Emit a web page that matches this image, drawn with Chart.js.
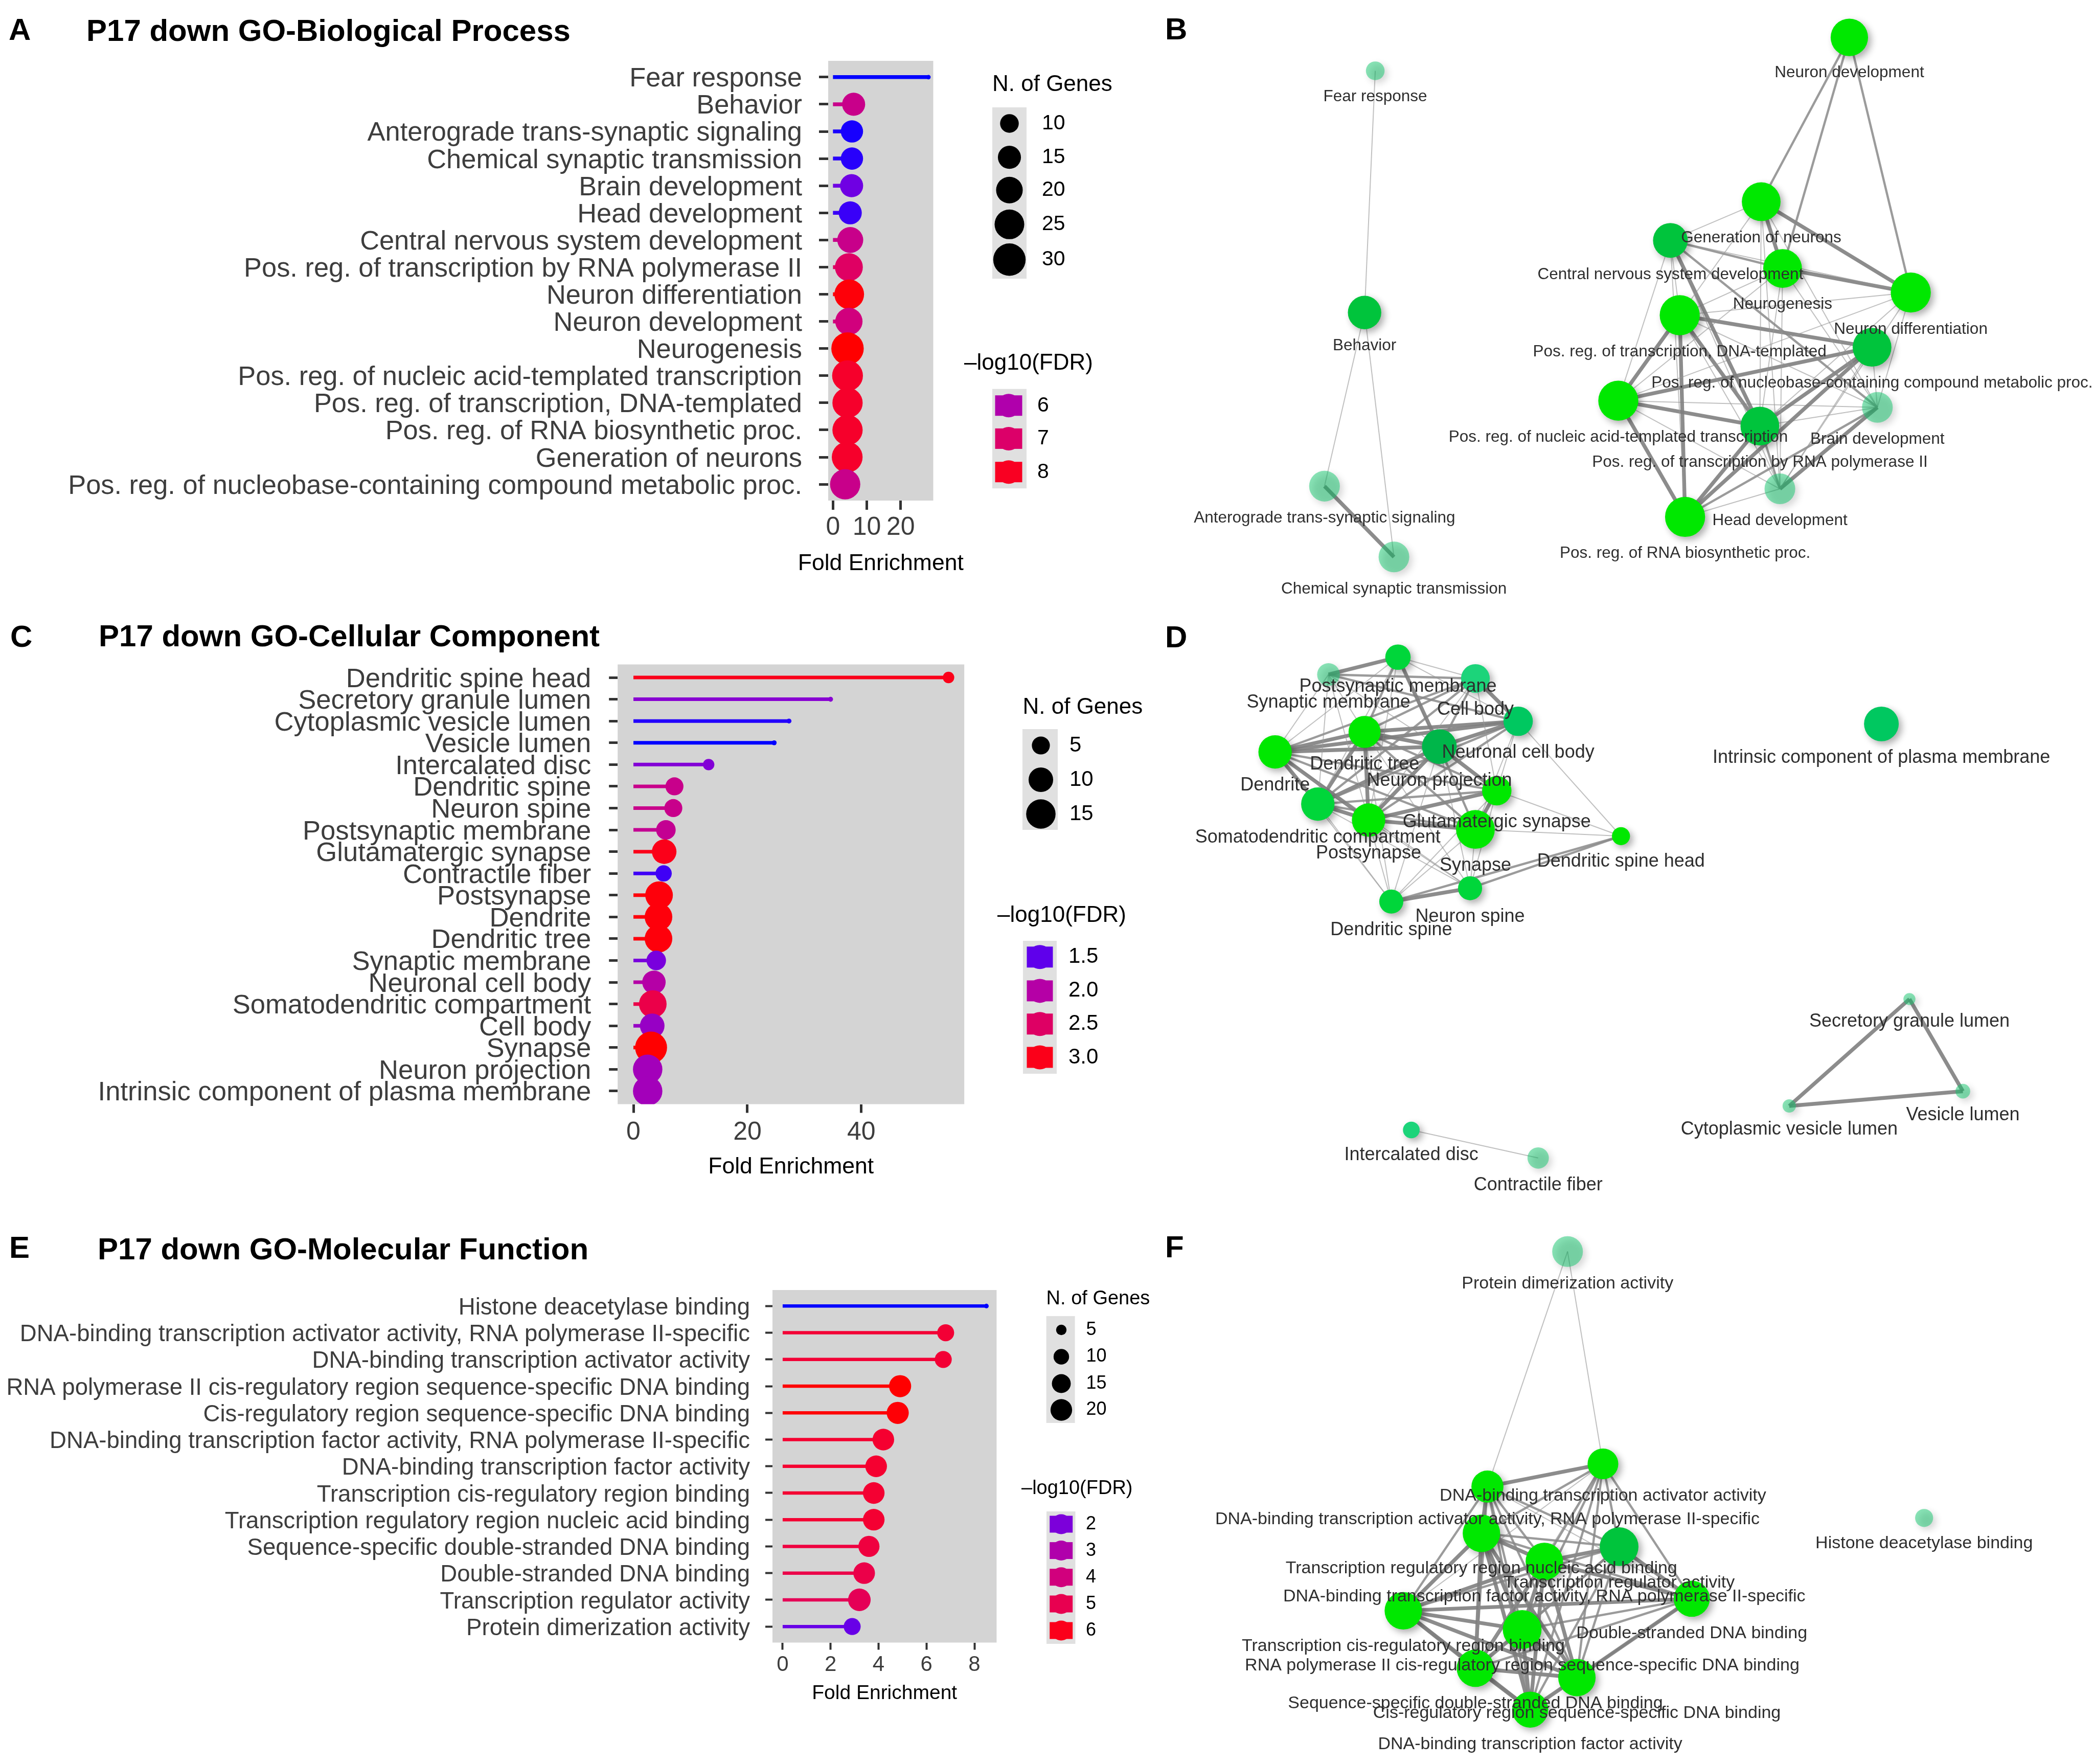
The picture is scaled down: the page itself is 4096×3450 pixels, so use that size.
<!DOCTYPE html>
<html>
<head>
<meta charset="utf-8">
<title>P17 down GO enrichment</title>
<script src="https://cdn.jsdelivr.net/npm/chart.js@4.4.1/dist/chart.umd.min.js"></script>
<style>
  html, body { margin: 0; padding: 0; background: #ffffff; }
  body { position: relative; width: 4096px; height: 3450px; overflow: hidden; }
  canvas { position: absolute; }
</style>
</head>
<body>
<canvas id="chartNet" width="1850" height="3450" style="left:2246px;top:0px"></canvas>
<canvas id="chartA" width="2300" height="1190" style="left:0px;top:0px"></canvas>
<canvas id="chartC" width="2300" height="1170" style="left:0px;top:1190px"></canvas>
<canvas id="chartE" width="2300" height="1090" style="left:0px;top:2360px"></canvas>
<script>
// --- Data: GO Biological Process (panel A / B) ---
const bpTerms = ['Fear response', 'Behavior', 'Anterograde trans-synaptic signaling', 'Chemical synaptic transmission',
  'Brain development', 'Head development', 'Central nervous system development',
  'Pos. reg. of transcription by RNA polymerase II', 'Neuron differentiation', 'Neuron development', 'Neurogenesis',
  'Pos. reg. of nucleic acid-templated transcription', 'Pos. reg. of transcription, DNA-templated',
  'Pos. reg. of RNA biosynthetic proc.', 'Generation of neurons',
  'Pos. reg. of nucleobase-containing compound metabolic proc.'];
const bpFold = [28.2, 6.1, 5.6, 5.6, 5.5, 5.1, 5.1, 4.7, 4.8, 4.7, 4.3, 4.3, 4.3, 4.3, 4.2, 3.6];
const bpGenes = [3, 15, 14, 14, 15, 15, 19, 22, 25, 21, 30, 27, 26, 26, 27, 26];
const bpLogFdr = [4.8, 6.5, 4.82, 4.85, 5.2, 4.9, 6.5, 7.1, 8.2, 6.7, 8.25, 7.9, 7.9, 7.9, 7.9, 6.5];
const bpTicks = [0, 10, 20];
const bpSizeBreaks = [10, 15, 20, 25, 30];
const bpFdrBreaks = [6, 7, 8];

// --- Data: GO Cellular Component (panel C / D) ---
const ccTerms = ['Dendritic spine head', 'Secretory granule lumen', 'Cytoplasmic vesicle lumen', 'Vesicle lumen',
  'Intercalated disc', 'Dendritic spine', 'Neuron spine', 'Postsynaptic membrane', 'Glutamatergic synapse',
  'Contractile fiber', 'Postsynapse', 'Dendrite', 'Dendritic tree', 'Synaptic membrane', 'Neuronal cell body',
  'Somatodendritic compartment', 'Cell body', 'Synapse', 'Neuron projection', 'Intrinsic component of plasma membrane'];
const ccFold = [55.3, 34.6, 27.3, 24.7, 13.2, 7.2, 7.0, 5.7, 5.4, 5.3, 4.5, 4.4, 4.4, 4.0, 3.6, 3.4, 3.3, 3.1, 2.5, 2.5];
const ccGenes = [2, 1, 1, 1, 2, 5, 5, 6, 10, 4, 13, 13, 13, 6, 9, 13, 10, 18, 15, 15];
const ccLogFdr = [3.0, 1.68, 1.38, 1.36, 1.65, 2.2, 2.2, 2.15, 3.0, 1.42, 3.05, 3.05, 3.05, 1.6, 2.0, 2.7, 1.77, 3.08, 1.85, 1.85];
const ccTicks = [0, 20, 40];
const ccSizeBreaks = [5, 10, 15];
const ccFdrBreaks = [1.5, 2.0, 2.5, 3.0];

// --- Data: GO Molecular Function (panel E / F) ---
const mfTerms = ['Histone deacetylase binding',
  'DNA-binding transcription activator activity, RNA polymerase II-specific',
  'DNA-binding transcription activator activity',
  'RNA polymerase II cis-regulatory region sequence-specific DNA binding',
  'Cis-regulatory region sequence-specific DNA binding',
  'DNA-binding transcription factor activity, RNA polymerase II-specific',
  'DNA-binding transcription factor activity', 'Transcription cis-regulatory region binding',
  'Transcription regulatory region nucleic acid binding', 'Sequence-specific double-stranded DNA binding',
  'Double-stranded DNA binding', 'Transcription regulator activity', 'Protein dimerization activity'];
const mfFold = [8.5, 6.8, 6.7, 4.9, 4.8, 4.2, 3.9, 3.8, 3.8, 3.6, 3.4, 3.2, 2.9];
const mfGenes = [3, 12, 12, 21, 21, 20, 20, 20, 20, 19, 20, 22, 12];
const mfLogFdr = [1.25, 5.55, 5.55, 6.25, 6.2, 5.65, 5.65, 5.6, 5.6, 5.35, 5.15, 4.85, 1.75];
const mfTicks = [0, 2, 4, 6, 8];
const mfSizeBreaks = [5, 10, 15, 20];
const mfFdrBreaks = [2, 3, 4, 5, 6];

// --- Networks: layout coordinates (x, y), node sizes and edges [from, to, weight] ---
const bpNodeNames = ['Fear response', 'Behavior', 'Anterograde trans-synaptic signaling', 'Chemical synaptic transmission',
  'Neuron development', 'Generation of neurons', 'Central nervous system development', 'Neurogenesis',
  'Neuron differentiation', 'Pos. reg. of transcription, DNA-templated',
  'Pos. reg. of nucleobase-containing compound metabolic proc.', 'Pos. reg. of nucleic acid-templated transcription',
  'Brain development', 'Pos. reg. of transcription by RNA polymerase II', 'Head development',
  'Pos. reg. of RNA biosynthetic proc.'];
const bpNodeX = [1030, 1022, 992, 1044, 1385, 1319, 1251, 1335, 1431, 1258, 1402, 1212, 1406, 1318, 1333, 1262];
const bpNodeY = [53, 234, 364, 417, 28, 151, 180, 201, 219, 236, 260, 300, 305, 319, 366, 387];
const bpNodeSize = [14, 25, 23, 23, 28, 29, 26, 29, 30, 30, 29, 30, 23, 29, 23, 30];
const bpEdges = [[0, 1, 1], [1, 2, 1], [1, 3, 1], [2, 3, 3],
  [4, 5, 2], [4, 7, 2], [4, 8, 2],
  [5, 6, 1], [5, 7, 3], [5, 8, 3], [5, 9, 1], [5, 12, 1], [5, 14, 1], [5, 13, 1],
  [6, 7, 2], [6, 8, 1], [6, 9, 1], [6, 11, 1], [6, 13, 3], [6, 12, 2], [6, 14, 1], [6, 15, 1],
  [7, 8, 3], [7, 9, 1], [7, 12, 1], [7, 14, 1], [7, 13, 1], [7, 11, 1],
  [8, 12, 1], [8, 14, 1], [8, 9, 1], [8, 11, 1], [8, 13, 1],
  [9, 10, 3], [9, 11, 3], [9, 15, 3], [9, 13, 3], [9, 14, 1], [9, 12, 1],
  [10, 11, 3], [10, 15, 3], [10, 13, 3], [10, 12, 1], [10, 14, 1],
  [11, 13, 3], [11, 15, 3], [11, 12, 1], [11, 14, 1],
  [12, 14, 3], [12, 15, 2], [12, 13, 1], [13, 15, 3], [13, 14, 2], [14, 15, 1]];

const ccNodeNames = ['Postsynaptic membrane', 'Synaptic membrane', 'Cell body', 'Neuronal cell body', 'Dendritic tree',
  'Neuron projection', 'Dendrite', 'Glutamatergic synapse', 'Somatodendritic compartment', 'Postsynapse', 'Synapse',
  'Dendritic spine head', 'Neuron spine', 'Dendritic spine', 'Intrinsic component of plasma membrane',
  'Secretory granule lumen', 'Vesicle lumen', 'Cytoplasmic vesicle lumen', 'Intercalated disc', 'Contractile fiber'];
const ccNodeX = [1047, 995, 1105, 1137, 1022, 1078, 955, 1121, 987, 1025, 1105, 1214, 1101, 1042, 1409, 1430, 1470, 1340, 1057, 1152];
const ccNodeY = [492, 505, 508, 540, 548, 559, 563, 592, 602, 614, 621, 626, 665, 675, 542, 748, 817, 828, 846, 867];
const ccNodeSize = [19, 17, 21.5, 22, 24, 26, 25, 22, 25, 25, 29, 13.5, 18, 18, 26, 9, 11, 10, 12.5, 16];
const ccEdges = [[0, 1, 3], [0, 2, 1], [0, 4, 2], [0, 5, 3], [0, 6, 1], [0, 3, 1], [0, 9, 1], [0, 8, 1], [0, 10, 1],
  [1, 2, 2], [1, 6, 1], [1, 4, 1], [1, 5, 1], [1, 3, 2], [1, 8, 1], [1, 9, 1],
  [2, 3, 3], [2, 5, 2], [2, 6, 2], [2, 4, 2], [2, 8, 2], [2, 7, 1], [2, 9, 1],
  [3, 4, 3], [3, 6, 3], [3, 5, 3], [3, 8, 2], [3, 9, 2], [3, 11, 1], [3, 7, 1], [3, 10, 1],
  [4, 6, 3], [4, 5, 3], [4, 8, 3], [4, 9, 3], [4, 7, 2], [4, 10, 2], [4, 13, 1], [4, 12, 1],
  [5, 6, 3], [5, 8, 3], [5, 9, 3], [5, 7, 3], [5, 10, 2], [5, 12, 1], [5, 13, 1],
  [6, 8, 3], [6, 9, 3], [6, 7, 2], [6, 10, 2], [6, 13, 1], [6, 12, 1],
  [7, 8, 2], [7, 9, 3], [7, 10, 3], [7, 11, 1], [7, 12, 1], [7, 13, 1],
  [8, 9, 3], [8, 10, 2], [8, 13, 1], [8, 12, 1],
  [9, 10, 3], [9, 13, 1], [9, 12, 1], [10, 12, 1], [10, 13, 1], [10, 11, 1],
  [11, 12, 2], [11, 13, 2], [12, 13, 3],
  [15, 16, 3], [15, 17, 3], [16, 17, 3], [18, 19, 1]];

const mfNodeNames = ['Protein dimerization activity', 'DNA-binding transcription activator activity',
  'DNA-binding transcription activator activity, RNA polymerase II-specific',
  'Transcription regulatory region nucleic acid binding', 'Transcription regulator activity',
  'DNA-binding transcription factor activity, RNA polymerase II-specific', 'Double-stranded DNA binding',
  'Transcription cis-regulatory region binding',
  'RNA polymerase II cis-regulatory region sequence-specific DNA binding',
  'Sequence-specific double-stranded DNA binding', 'Cis-regulatory region sequence-specific DNA binding',
  'DNA-binding transcription factor activity', 'Histone deacetylase binding'];
const mfNodeX = [1174, 1200.5, 1114, 1109.5, 1212.6, 1156.6, 1267, 1051, 1140, 1105, 1181, 1146, 1441];
const mfNodeY = [937, 1096, 1113, 1148, 1158, 1169, 1197, 1206, 1220, 1249, 1256, 1280, 1136.5];
const mfNodeSize = [23, 23, 24, 28, 29, 28, 27, 28, 29, 28, 28, 27, 13.5];
const mfEdges = [[0, 1, 1], [0, 2, 1],
  [1, 2, 3], [1, 3, 2], [1, 4, 2], [1, 5, 2], [1, 6, 2], [1, 7, 1], [1, 8, 2], [1, 9, 1], [1, 10, 2], [1, 11, 2],
  [2, 3, 3], [2, 4, 2], [2, 5, 2], [2, 6, 1], [2, 7, 2], [2, 8, 2], [2, 9, 2], [2, 10, 2], [2, 11, 2],
  [3, 4, 2], [3, 5, 3], [3, 6, 2], [3, 7, 3], [3, 8, 3], [3, 9, 3], [3, 10, 3], [3, 11, 3],
  [4, 5, 3], [4, 6, 3], [4, 7, 2], [4, 8, 2], [4, 9, 2], [4, 10, 2], [4, 11, 2],
  [5, 6, 3], [5, 7, 3], [5, 8, 3], [5, 9, 3], [5, 10, 3], [5, 11, 3],
  [6, 7, 3], [6, 8, 2], [6, 9, 2], [6, 10, 3], [6, 11, 2],
  [7, 8, 3], [7, 9, 3], [7, 10, 3], [7, 11, 3],
  [8, 9, 3], [8, 10, 3], [8, 11, 3], [9, 10, 3], [9, 11, 3], [10, 11, 3]];

// --- Styles ---
const FONT = '"Liberation Sans", Arial, Helvetica, sans-serif';
const K = 4096 / 1568;            // network layout unit -> px
const PANEL_BG = '#D4D4D4';
const KEY_BG = '#E0E0E0';
const TICK_TEXT = '#3D3D3D';
const TICK_MARK = '#333333';
const NODE_TONE = {
  bright: '#00E800', green: '#00D63A', dark: '#00C43C', deep: '#00B64A',
  mint: '#1CD47A', mintDark: '#00C860', pale: 'rgba(20,200,110,0.5)'
};
const bpNodeTone = ['pale', 'dark', 'pale', 'pale', 'bright', 'bright', 'dark', 'bright', 'bright', 'bright',
  'dark', 'bright', 'pale', 'dark', 'pale', 'bright'];
const ccNodeTone = ['green', 'pale', 'mint', 'mintDark', 'bright', 'deep', 'bright', 'bright', 'green', 'bright',
  'bright', 'bright', 'green', 'green', 'mintDark', 'pale', 'pale', 'pale', 'mint', 'pale'];
const mfNodeTone = ['pale', 'bright', 'bright', 'bright', 'dark', 'bright', 'bright', 'bright', 'bright', 'bright',
  'bright', 'bright', 'pale'];
const EDGE_STYLE = {
  1: { width: 2, color: 'rgba(150,150,150,0.6)' },
  2: { width: 4.4, color: 'rgba(138,138,138,0.85)' },
  3: { width: 7.4, color: 'rgba(128,128,128,0.9)' }
};

Chart.defaults.font.family = FONT;

// --- Colour ramp blue -> red, interpolated in Lab like ggplot ---
const lin = c => { c /= 255; return c <= 0.04045 ? c / 12.92 : Math.pow((c + 0.055) / 1.055, 2.4); };
function rgb2lab(rgb) {
  const [r, g, b] = rgb.map(lin);
  const X = (0.4124564 * r + 0.3575761 * g + 0.1804375 * b) / 0.95047;
  const Y = 0.2126729 * r + 0.7151522 * g + 0.0721750 * b;
  const Z = (0.0193339 * r + 0.1191920 * g + 0.9503041 * b) / 1.08883;
  const f = t => t > 0.008856 ? Math.cbrt(t) : 7.787 * t + 16 / 116;
  const fx = f(X), fy = f(Y), fz = f(Z);
  return [116 * fy - 16, 500 * (fx - fy), 200 * (fy - fz)];
}
function lab2rgb(L, a, b) {
  const fy = (L + 16) / 116, fx = fy + a / 500, fz = fy - b / 200;
  const finv = t => t > 0.206893 ? t * t * t : (t - 16 / 116) / 7.787;
  const X = finv(fx) * 0.95047, Y = finv(fy), Z = finv(fz) * 1.08883;
  const r = 3.2404542 * X - 1.5371385 * Y - 0.4985314 * Z;
  const g = -0.9692660 * X + 1.8760108 * Y + 0.0415560 * Z;
  const bb = 0.0556434 * X - 0.2040259 * Y + 1.0572252 * Z;
  const gam = c => { c = Math.min(1, Math.max(0, c)); return Math.round(255 * (c <= 0.0031308 ? 12.92 * c : 1.055 * Math.pow(c, 1 / 2.4) - 0.055)); };
  return `rgb(${gam(r)},${gam(g)},${gam(bb)})`;
}
const LAB_LO = rgb2lab([0, 0, 255]);
const LAB_HI = rgb2lab([255, 0, 0]);
const ramp = t => lab2rgb(...LAB_LO.map((v, i) => v + (LAB_HI[i] - v) * t));

// radius (px) of a dot for N genes: ggplot-like area scale between data min and max
function sizeScale(genes, lo, hi) {
  const nMin = Math.min(...genes), nMax = Math.max(...genes);
  return n => (lo + (hi - lo) * Math.sqrt(Math.max(0, (n - nMin) / (nMax - nMin)))) * 0.961 / 2;
}

// --- Lollipop panels ---
function lollipopDecor(s, sizeBreaks, fdrBreaks, radiusOf, colorOf) {
  return {
    id: 'lollipopDecor',
    beforeDraw(chart) {
      const { ctx, chartArea: a } = chart;
      ctx.save();
      ctx.fillStyle = PANEL_BG;
      ctx.fillRect(a.left, a.top, a.right - a.left, a.bottom - a.top);
      ctx.restore();
    },
    afterDraw(chart) {
      const { ctx, chartArea: a } = chart;
      ctx.save();
      ctx.fillStyle = '#000';
      ctx.textAlign = 'left';
      ctx.textBaseline = 'alphabetic';
      ctx.font = `bold 60px ${FONT}`;
      ctx.fillText(s.letter, s.letterX, s.letterY);
      ctx.fillText(s.title, s.titleX, s.titleY);
      ctx.textAlign = 'center';
      ctx.font = `${s.axisTitleFont}px ${FONT}`;
      ctx.fillText('Fold Enrichment', (a.left + a.right) / 2, s.axisTitleY);

      // size legend
      const L = s.sizeLegend;
      ctx.textAlign = 'left';
      ctx.textBaseline = 'middle';
      ctx.font = `${s.legendTitleFont}px ${FONT}`;
      ctx.fillText('N. of Genes', L.titleX, L.titleY);
      ctx.fillStyle = KEY_BG;
      ctx.fillRect(L.bg[0], L.bg[1], L.bg[2], L.bg[3]);
      ctx.font = `${s.legendTextFont}px ${FONT}`;
      sizeBreaks.forEach((v, i) => {
        ctx.fillStyle = '#000';
        ctx.beginPath();
        ctx.arc(L.cx, L.cy[i], radiusOf(v), 0, Math.PI * 2);
        ctx.fill();
        ctx.fillText(String(v), L.textX, L.cy[i]);
      });

      // colour legend
      const F = s.fdrLegend;
      ctx.font = `${s.legendTitleFont}px ${FONT}`;
      ctx.fillText('\u2013log10(FDR)', F.titleX, F.titleY);
      ctx.fillStyle = KEY_BG;
      ctx.fillRect(F.bg[0], F.bg[1], F.bg[2], F.bg[3]);
      ctx.font = `${s.legendTextFont}px ${FONT}`;
      fdrBreaks.forEach((v, i) => {
        ctx.fillStyle = colorOf(v);
        ctx.fillRect(F.cx - F.w / 2, F.cy[i] - F.h / 2, F.w, F.h);
        ctx.beginPath();
        ctx.arc(F.cx, F.cy[i], F.h / 2 + 3, 0, Math.PI * 2);
        ctx.fill();
        ctx.fillStyle = '#000';
        ctx.fillText(v.toFixed(s.fdrDigits), F.textX, F.cy[i]);
      });
      ctx.restore();
    }
  };
}

function makeLollipop(id, terms, fold, genes, logFdr, ticks, sizeBreaks, fdrBreaks, s) {
  const canvas = document.getElementById(id);
  const n = terms.length;
  const fMax = Math.max(...fold);
  const lo = Math.min(...logFdr), hi = Math.max(...logFdr);
  const colorOf = v => ramp((v - lo) / (hi - lo));
  const radiusOf = sizeScale(genes, s.dotLo, s.dotHi);
  const colors = logFdr.map(colorOf);

  const datasets = [{
    type: 'bubble', order: 0,
    data: fold.map((f, i) => ({ x: f, y: i, r: radiusOf(genes[i]) })),
    backgroundColor: colors, borderWidth: 0
  }];
  fold.forEach((f, i) => datasets.push({
    type: 'line', order: 1,
    data: [{ x: 0, y: i }, { x: f, y: i }],
    borderColor: colors[i], borderWidth: s.stem, pointRadius: 0, fill: false
  }));

  const grid = { drawOnChartArea: false, drawTicks: true, tickLength: s.tickLen, tickWidth: s.tickW, tickColor: TICK_MARK };
  const AXIS_H = 100;
  new Chart(canvas, {
    type: 'bubble',
    data: { datasets },
    options: {
      responsive: false, animation: false, events: [],
      layout: { autoPadding: false, padding: { left: 0, top: s.area.top, right: canvas.width - s.area.right, bottom: canvas.height - s.area.bottom - AXIS_H } },
      plugins: { legend: { display: false }, tooltip: { enabled: false } },
      scales: {
        x: {
          type: 'linear', min: -0.05 * fMax, max: 1.05 * fMax,
          afterBuildTicks: sc => { sc.ticks = ticks.map(v => ({ value: v })); },
          afterFit: sc => { sc.height = AXIS_H; },
          ticks: { font: { family: FONT, size: s.xTickFont }, color: TICK_TEXT, padding: s.xTickPad, maxRotation: 0, minRotation: 0, autoSkip: false },
          grid, border: { display: false }
        },
        y: {
          type: 'linear', reverse: true, min: -0.6, max: n - 0.4,
          afterBuildTicks: sc => { sc.ticks = terms.map((t, i) => ({ value: i })); },
          afterFit: sc => { sc.width = s.area.left; },
          ticks: { font: { family: FONT, size: s.labelFont }, color: TICK_TEXT, padding: s.labelPad, labelOffset: 4, autoSkip: false, callback: v => terms[v] },
          grid, border: { display: false }
        }
      }
    },
    plugins: [lollipopDecor(s, sizeBreaks, fdrBreaks, radiusOf, colorOf)]
  });
}

makeLollipop('chartA', bpTerms, bpFold, bpGenes, bpLogFdr, bpTicks, bpSizeBreaks, bpFdrBreaks, {
  area: { left: 1620, right: 1825.5, top: 119, bottom: 979 },
  letter: 'A', letterX: 17, letterY: 78, title: 'P17 down GO-Biological Process', titleX: 169, titleY: 80,
  labelFont: 52.4, labelPad: 33, xTickFont: 50, xTickPad: 5, tickLen: 18, tickW: 5,
  axisTitleFont: 44.5, axisTitleY: 1115, stem: 7.5, dotLo: 9, dotHi: 66,
  legendTitleFont: 44, legendTextFont: 41, fdrDigits: 0,
  sizeLegend: { titleX: 1941, titleY: 166, bg: [1941, 210, 67, 335], cx: 1974.5, cy: [241.4, 307.7, 371.7, 438.8, 507.8], textX: 2038 },
  fdrLegend: { titleX: 1886, titleY: 711, bg: [1941, 760.7, 67, 194.5], cx: 1973, cy: [793.2, 857.9, 923.2], w: 53, h: 40, textX: 2029 }
});

makeLollipop('chartC', ccTerms, ccFold, ccGenes, ccLogFdr, ccTicks, ccSizeBreaks, ccFdrBreaks, {
  area: { left: 1208.2, right: 1886.2, top: 109.5, bottom: 969.5 },
  letter: 'C', letterX: 20, letterY: 75, title: 'P17 down GO-Cellular Component', titleX: 193, titleY: 74,
  labelFont: 52.6, labelPad: 35, xTickFont: 50, xTickPad: 8.7, tickLen: 17, tickW: 5,
  axisTitleFont: 44.5, axisTitleY: 1105, stem: 7, dotLo: 10, dotHi: 65,
  legendTitleFont: 44, legendTextFont: 42, fdrDigits: 1,
  sizeLegend: { titleX: 2000.5, titleY: 194, bg: [2000, 236, 69, 197], cx: 2036, cy: [268, 335, 402], textX: 2092 },
  fdrLegend: { titleX: 1951, titleY: 601, bg: [2001, 650, 66, 260], cx: 2034, cy: [681.8, 747.9, 812.8, 878], w: 51, h: 41, textX: 2090 }
});

makeLollipop('chartE', mfTerms, mfFold, mfGenes, mfLogFdr, mfTicks, mfSizeBreaks, mfFdrBreaks, {
  area: { left: 1511, right: 1949.4, top: 163, bottom: 852.5 },
  letter: 'E', letterX: 18, letterY: 100, title: 'P17 down GO-Molecular Function', titleX: 191, titleY: 103,
  labelFont: 45.6, labelPad: 30, xTickFont: 42, xTickPad: 5, tickLen: 14, tickW: 4,
  axisTitleFont: 39, axisTitleY: 963, stem: 6.5, dotLo: 9.4, dotHi: 46,
  legendTitleFont: 38, legendTextFont: 36, fdrDigits: 0,
  sizeLegend: { titleX: 2046.6, titleY: 181, bg: [2046.6, 214, 56, 209], cx: 2076, cy: [241, 293.5, 346, 397.5], textX: 2124.6 },
  fdrLegend: { titleX: 1998, titleY: 552, bg: [2047, 596, 56.5, 259], cx: 2075.7, cy: [621, 672.6, 724.7, 777, 829], w: 45, h: 33, textX: 2124 }
});

// --- Network panels (B, D, F) in one chart ---
function nodeSet(names, xs, ys, sizes, tones, labelFont) {
  return {
    type: 'bubble', order: 0, isNode: true, names, labelFont,
    data: xs.map((x, i) => ({ x, y: ys[i], r: sizes[i] / 2 * K })),
    backgroundColor: tones.map(t => NODE_TONE[t]), borderWidth: 0
  };
}
function edgeSets(xs, ys, edges) {
  return edges.map(([a, b, w]) => ({
    type: 'line', order: 1,
    data: [{ x: xs[a], y: ys[a] }, { x: xs[b], y: ys[b] }],
    borderColor: EDGE_STYLE[w].color, borderWidth: EDGE_STYLE[w].width, pointRadius: 0, fill: false
  }));
}

const netDecor = {
  id: 'netDecor',
  beforeDatasetDraw(chart, args) {
    if (!chart.data.datasets[args.index].isNode) return;
    const c = chart.ctx;
    c.save();
    c.shadowColor = 'rgba(0,0,0,0.32)';
    c.shadowBlur = 14;
    c.shadowOffsetX = 6;
    c.shadowOffsetY = 6;
  },
  afterDatasetDraw(chart, args) {
    if (chart.data.datasets[args.index].isNode) chart.ctx.restore();
  },
  afterDatasetsDraw(chart) {
    const { ctx, scales: { x, y } } = chart;
    ctx.save();
    ctx.fillStyle = '#2E2E2E';
    ctx.textAlign = 'center';
    ctx.textBaseline = 'middle';
    chart.data.datasets.forEach(ds => {
      if (!ds.isNode) return;
      ctx.font = `${ds.labelFont}px ${FONT}`;
      ds.data.forEach((p, i) => {
        ctx.fillText(ds.names[i], x.getPixelForValue(p.x), y.getPixelForValue(p.y) + p.r + 12.5 * K);
      });
    });
    ctx.restore();
  },
  afterDraw(chart) {
    const ctx = chart.ctx;
    ctx.save();
    ctx.fillStyle = '#000';
    ctx.font = `bold 60px ${FONT}`;
    ctx.textAlign = 'left';
    ctx.textBaseline = 'alphabetic';
    ctx.fillText('B', 33, 77);
    ctx.fillText('D', 33, 1266);
    ctx.fillText('F', 33, 2459);
    ctx.restore();
  }
};

const netCanvas = document.getElementById('chartNet');
new Chart(netCanvas, {
  type: 'bubble',
  data: {
    datasets: [
      nodeSet(bpNodeNames, bpNodeX, bpNodeY, bpNodeSize, bpNodeTone, 31.5),
      nodeSet(ccNodeNames, ccNodeX, ccNodeY, ccNodeSize, ccNodeTone, 36),
      nodeSet(mfNodeNames, mfNodeX, mfNodeY, mfNodeSize, mfNodeTone, 34),
      ...edgeSets(bpNodeX, bpNodeY, bpEdges),
      ...edgeSets(ccNodeX, ccNodeY, ccEdges),
      ...edgeSets(mfNodeX, mfNodeY, mfEdges)
    ]
  },
  options: {
    responsive: false, animation: false, events: [],
    layout: { autoPadding: false, padding: 0 },
    plugins: { legend: { display: false }, tooltip: { enabled: false } },
    scales: {
      x: { type: 'linear', display: false, min: 860, max: 860 + netCanvas.width / K },
      y: { type: 'linear', display: false, reverse: true, min: 0, max: netCanvas.height / K }
    }
  },
  plugins: [netDecor]
});
</script>
</body>
</html>
